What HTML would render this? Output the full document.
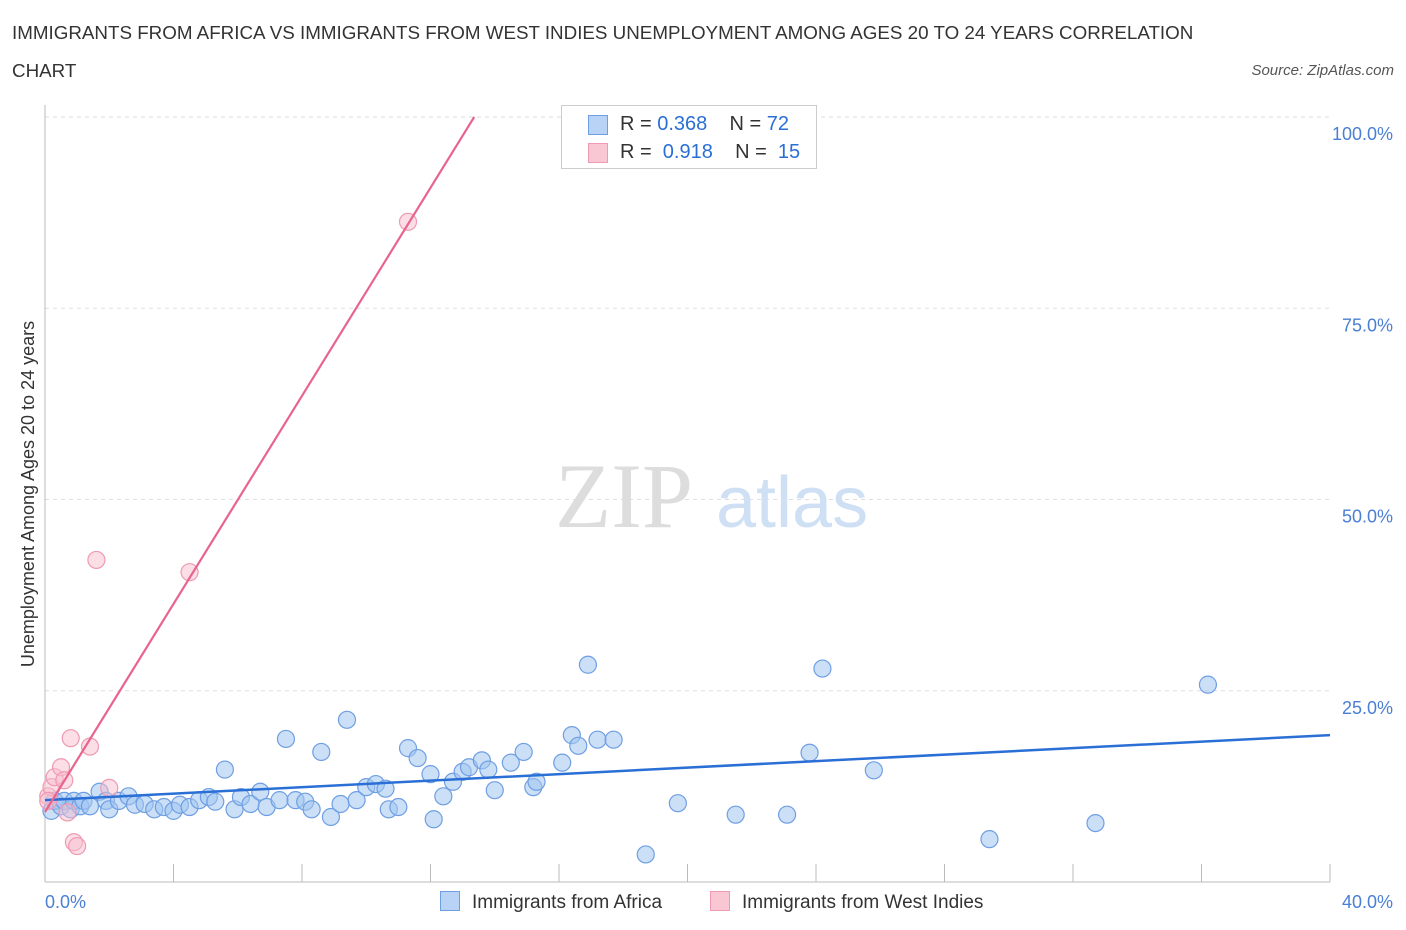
<!DOCTYPE html>
<html><head><meta charset="utf-8"><style>
body{margin:0;background:#fff;font-family:"Liberation Sans",sans-serif;}
#wrap{position:relative;width:1406px;height:930px;overflow:hidden;}
.t{position:absolute;white-space:nowrap;}
</style></head><body>
<div id="wrap">
<div class="t" style="left:12px;top:14px;font-size:18.8px;color:#333;line-height:38px;width:1195px;white-space:normal">IMMIGRANTS FROM AFRICA VS IMMIGRANTS FROM WEST INDIES UNEMPLOYMENT AMONG AGES 20 TO 24 YEARS CORRELATION CHART</div>
<div class="t" style="right:12px;top:62px;font-size:15px;color:#555;font-style:italic">Source: ZipAtlas.com</div>
<svg id="svg" width="1406" height="930" style="position:absolute;left:0;top:0"></svg>
</div>
<script>
const blueX=[0.2,0.3,0.5,0.6,0.8,0.9,1.1,1.2,1.4,1.7,1.9,2.0,2.3,2.6,2.8,3.1,3.4,3.7,4.0,4.2,4.5,4.8,5.1,5.3,5.6,5.9,6.1,6.4,6.7,6.9,7.3,7.5,7.8,8.1,8.3,8.6,8.9,9.2,9.4,9.7,10.0,10.3,10.6,10.7,11.0,11.3,11.6,12.0,12.1,12.4,12.7,13.0,13.2,13.6,13.8,14.0,14.5,14.9,15.2,15.3,16.1,16.4,16.6,16.9,17.2,17.7,18.7,19.7,21.5,23.1,23.8,24.2,25.8,29.4,32.7,36.2];
const blueY=[9.3,10.6,9.9,10.6,9.5,10.6,9.9,10.6,9.9,11.8,10.6,9.5,10.6,11.2,10.1,10.2,9.5,9.8,9.3,10.1,9.8,10.7,11.1,10.5,14.7,9.5,11.1,10.2,11.8,9.8,10.7,18.7,10.7,10.5,9.5,17.0,8.5,10.2,21.2,10.7,12.4,12.8,12.2,9.5,9.8,17.5,16.2,14.1,8.2,11.2,13.1,14.4,15.0,15.9,14.7,12.0,15.6,17.0,12.4,13.1,15.6,19.2,17.8,28.4,18.6,18.6,3.6,10.3,8.8,8.8,16.9,27.9,14.6,5.6,7.7,25.8];
const pinkX=[0.1,0.2,0.3,0.5,0.6,0.7,0.8,0.9,1.0,1.4,1.6,2.0,4.5,11.3,0.1];
const pinkY=[11.2,12.4,13.7,15.0,13.3,9.1,18.8,5.2,4.7,17.7,42.1,12.3,40.5,86.3,10.6];
const blueFit=[10.7,19.2];
const pinkFit=[9.15,6.8];
const yTicks=[25,50,75,100];
const yTickLabels=["25.0%","50.0%","75.0%","100.0%"];
const xTicks=[0,4,8,12,16,20,24,28,32,36,40];

const svg=document.getElementById('svg');const NS='http://www.w3.org/2000/svg';
const X=v=>45+v/40*1285, Y=v=>882-v*7.65;
function mk(tag,attrs,parent){const e=document.createElementNS(NS,tag);for(const k in attrs)e.setAttribute(k,attrs[k]);(parent||svg).appendChild(e);return e;}
yTicks.forEach((t,i)=>{
 const g=mk('line',{x1:45,x2:1330,y1:Y(t),y2:Y(t),stroke:'#ddd','stroke-dasharray':'4,4'});
 
 
 const l=mk('text',{x:1393,y:Y(t)+23,'text-anchor':'end','font-size':18,fill:'#4a7fd4','font-family':'Liberation Sans'});
 l.textContent=yTickLabels[i];
 
 
});
xTicks.forEach(t=>{
 const e=mk('line',{x1:X(t),x2:X(t),y1:864,y2:882,stroke:'#bbb'});
 
 
});
mk('line',{x1:45,x2:1330,y1:882,y2:882,stroke:'#bbb'});
mk('line',{x1:45,x2:45,y1:105,y2:882,stroke:'#bbb'});
const w=mk('text',{x:555,y:527,'font-size':92,fill:'#ddd','font-family':'Liberation Serif'});w.textContent='ZIP';

const w2=mk('text',{x:716,y:527,'font-size':72,fill:'#cfe0f5','font-family':'Liberation Sans'});w2.textContent='atlas';

blueX.forEach((v,i)=>{
 const c=mk('circle',{cx:X(v),cy:Y(blueY[i]),r:8.5,fill:'rgba(160,196,240,0.55)',stroke:'#6f9fe3','stroke-width':1.2});
 
 
});
pinkX.forEach((v,i)=>{
 const c=mk('circle',{cx:X(v),cy:Y(pinkY[i]),r:8.5,fill:'rgba(248,190,205,0.5)',stroke:'#ee9ab2','stroke-width':1.2});
 
 
});
const bl=mk('line',{x1:X(0),y1:Y(blueFit[0]),x2:X(40),y2:Y(blueFit[1]),stroke:'#2a6fd6','stroke-width':2.5});


const xe=(100-pinkFit[0])/pinkFit[1];
const pl=mk('line',{x1:X(0),y1:Y(pinkFit[0]),x2:X(xe),y2:Y(100),stroke:'#e8648e','stroke-width':2.2});


const x0=mk('text',{x:45,y:908,'font-size':18,fill:'#4a7fd4','font-family':'Liberation Sans'});x0.textContent='0.0%';

const x1=mk('text',{x:1393,y:908,'font-size':18,fill:'#4a7fd4','text-anchor':'end','font-family':'Liberation Sans'});x1.textContent='40.0%';

const yt=mk('text',{x:0,y:0,'font-size':18,fill:'#333','text-anchor':'middle','font-family':'Liberation Sans',transform:'translate(34,494) rotate(-90)'});yt.textContent='Unemployment Among Ages 20 to 24 years';

</script>
<div style="position:absolute;left:561px;top:105px;width:254px;height:62px;border:1px solid #ccc;background:#fff;font-size:20px;color:#333">
 <div style="position:absolute;left:26px;top:9px;width:18px;height:18px;background:#b8d3f5;border:1px solid #6f9fe3"></div>
 <div class="t" style="left:58px;top:7px">R = <span style="color:#2a6fd6">0.368</span>&nbsp;&nbsp;&nbsp; N = <span style="color:#2a6fd6">72</span></div>
 <div style="position:absolute;left:26px;top:37px;width:18px;height:18px;background:#f9c6d4;border:1px solid #ee9ab2"></div>
 <div class="t" style="left:58px;top:35px">R = &nbsp;<span style="color:#2a6fd6">0.918</span>&nbsp;&nbsp;&nbsp; N = &nbsp;<span style="color:#2a6fd6">15</span></div>
</div>
<div style="position:absolute;left:440px;top:891px;font-size:19px;color:#333">
 <span style="display:inline-block;width:18px;height:18px;background:#b8d3f5;border:1px solid #6f9fe3;vertical-align:-3px;margin-right:12px"></span>Immigrants from Africa</div>
<div style="position:absolute;left:710px;top:891px;font-size:19px;color:#333">
 <span style="display:inline-block;width:18px;height:18px;background:#f9c6d4;border:1px solid #ee9ab2;vertical-align:-3px;margin-right:12px"></span>Immigrants from West Indies</div>
</body></html>
